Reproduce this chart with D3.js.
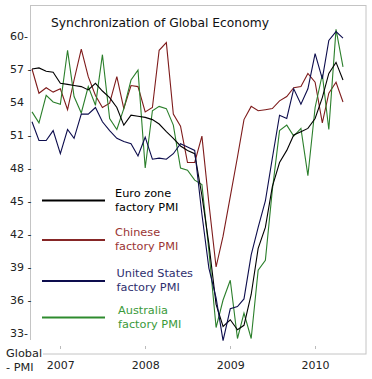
<!DOCTYPE html>
<html><head><meta charset="utf-8">
<script src="https://cdn.jsdelivr.net/npm/d3@7/dist/d3.min.js"></script>
<style>
body{margin:0;background:#fff;}
svg{display:block;font-family:"DejaVu Sans",Verdana,sans-serif;}
</style>
</head><body>
<svg id="chart" width="372" height="379"></svg>
<script>
// ---- data (monthly, Sep 2006 .. May 2010) ----
const months = ["2006-09","2006-10","2006-11","2006-12",
  "2007-01","2007-02","2007-03","2007-04","2007-05","2007-06","2007-07","2007-08","2007-09","2007-10","2007-11","2007-12",
  "2008-01","2008-02","2008-03","2008-04","2008-05","2008-06","2008-07","2008-08","2008-09","2008-10","2008-11","2008-12",
  "2009-01","2009-02","2009-03","2009-04","2009-05","2009-06","2009-07","2009-08","2009-09","2009-10","2009-11","2009-12",
  "2010-01","2010-02","2010-03","2010-04","2010-05"];

const euroZone = [57.0,57.1,56.8,56.7,
  55.7,55.6,55.5,55.4,55.1,55.7,55.0,54.4,53.5,51.9,52.8,52.7,
  52.6,52.4,52.0,51.3,50.7,50.0,49.6,49.3,45.5,41.1,35.6,33.6,
  34.2,33.3,33.7,36.5,40.7,42.6,46.3,48.5,49.6,51.0,51.3,51.6,
  52.5,54.4,56.6,57.6,56.0];

const chinese = [57.0,54.8,55.3,54.9,
  55.2,53.3,56.0,58.8,56.3,54.6,53.5,53.9,56.3,53.4,55.5,55.4,
  53.1,53.5,58.7,59.4,52.9,51.8,48.5,48.5,50.9,44.8,39.0,41.8,
  45.4,49.0,52.4,53.6,53.2,53.3,53.4,54.1,54.5,55.3,55.4,56.6,
  55.8,52.1,54.8,55.8,54.0];

const unitedStates = [52.2,50.5,50.5,51.4,
  49.3,51.5,50.7,52.9,52.9,53.5,52.2,51.4,50.7,50.4,50.2,49.1,
  50.8,48.8,48.9,48.8,49.3,50.2,49.9,49.6,43.8,38.9,36.2,32.3,
  35.2,35.4,36.1,40.1,42.6,45.0,48.9,52.8,52.5,55.2,53.8,55.2,
  58.4,56.1,59.6,60.4,59.8];

const australia = [53.1,52.1,54.6,54.0,
  53.8,58.7,54.5,53.0,55.4,53.7,58.3,52.5,51.5,53.4,56.0,56.9,
  48.0,53.2,53.6,53.4,51.9,48.0,47.8,46.9,46.5,40.5,33.5,36.0,
  37.8,32.5,34.8,32.5,38.7,39.6,46.0,51.4,51.9,50.9,51.6,47.3,
  53.5,56.5,51.5,60.6,57.2];

const yTicks = [33,36,39,42,45,48,51,54,57,60];
const yTickLabels = ["33-","36 -","39 -","42 -","45 -","48 -","51 -","54","57 -","60-"];
const yearTicks = ["2007","2008","2009","2010"];
const titleText = "Synchronization of Global Economy";
const axisTitle = ["Global","- PMI"];
const seriesNames = [["Euro zone","factory PMI"],["Chinese","factory PMI"],["United States","factory PMI"],["Australia","factory PMI"]];

// ---- styles ----
const lineColors = ["#000000","#7e1b1b","#0d0d4d","#2b7f2b"];
const legendLineColors = ["#000000","#862626","#0d0d4d","#2e8b2e"];
const textColors = ["#000000","#9a3434","#2e2e6e","#3a9a3a"];

const parse = d3.timeParse("%Y-%m");
const dates = months.map(parse);

const svg = d3.select("#chart");
const x = d3.scaleTime().domain([dates[0], dates[dates.length-1]]).range([32, 343]);
const y = d3.scaleLinear().domain([33, 60]).range([333, 36]);

// frame
svg.append("rect").attr("x",30.5).attr("y",5.5).attr("width",335.5).attr("height",348.5)
  .attr("fill","#fff").attr("stroke","#c4c4c4").attr("stroke-width",1);

// title
svg.append("text").attr("x",51).attr("y",27).attr("font-size",12.3).attr("fill","#111").text(titleText);

// y axis labels
const yAxis = d3.axisLeft(y).tickValues(yTicks).tickSize(0).tickPadding(0)
  .tickFormat((d,i)=>yTickLabels[i]);
const yg = svg.append("g").attr("transform","translate(10,0)").call(yAxis);
yg.select(".domain").remove();
yg.selectAll("text").attr("text-anchor","start").attr("x",0).attr("font-size",11)
  .attr("font-family","DejaVu Sans, Verdana, sans-serif").attr("fill","#222");

// x axis (year labels and small ticks)
const yearDates = yearTicks.map(s=>d3.timeParse("%Y")(s));
const xAxis = d3.axisBottom(x).tickValues(yearDates).tickSize(0).tickPadding(0)
  .tickFormat(d3.timeFormat("%Y"));
const xg = svg.append("g").attr("transform","translate(0,365.5)").call(xAxis);
xg.select(".domain").remove();
xg.selectAll("text").attr("font-size",11).attr("font-family","DejaVu Sans, Verdana, sans-serif")
  .attr("fill","#222").attr("dy","0.35em");
svg.append("g").selectAll("line").data(yearDates).join("line")
  .attr("x1",d=>Math.round(x(d))+0.5).attr("x2",d=>Math.round(x(d))+0.5)
  .attr("y1",346).attr("y2",349).attr("stroke","#bbb");

// axis title "Global - PMI"
svg.append("rect").attr("x",4).attr("y",340).attr("width",39).attr("height",30).attr("fill","#fff");
svg.append("text").attr("x",6).attr("y",357).attr("font-size",11.3).attr("fill","#222").text(axisTitle[0]);
svg.append("text").attr("x",6).attr("y",371).attr("font-size",11.3).attr("fill","#222").text(axisTitle[1]);

// series
const allSeries = [euroZone, chinese, unitedStates, australia];
const line = d3.line().x((d,i)=>x(dates[i])).y(d=>y(d));
const drawOrder = [1,3,0,2];
drawOrder.forEach(si=>{
  svg.append("path").datum(allSeries[si]).attr("d",line)
    .attr("fill","none").attr("stroke",lineColors[si]).attr("stroke-width",1.1)
    .attr("stroke-linejoin","miter");
});

// legend
const legendY = [200.5, 240, 281, 317.5];
const legendTextX = [115, 115, 116.5, 118];
const lg = svg.append("g");
seriesNames.forEach((nm,i)=>{
  lg.append("line").attr("x1",42).attr("x2",105).attr("y1",legendY[i]).attr("y2",legendY[i])
    .attr("stroke",legendLineColors[i]).attr("stroke-width",2);
  lg.append("text").attr("x",legendTextX[i]).attr("y",legendY[i]-4).attr("font-size",11.3)
    .attr("fill",textColors[i]).text(nm[0]);
  lg.append("text").attr("x",legendTextX[i]).attr("y",legendY[i]+10).attr("font-size",11.3)
    .attr("fill",textColors[i]).text(nm[1]);
});
</script>
</body></html>
